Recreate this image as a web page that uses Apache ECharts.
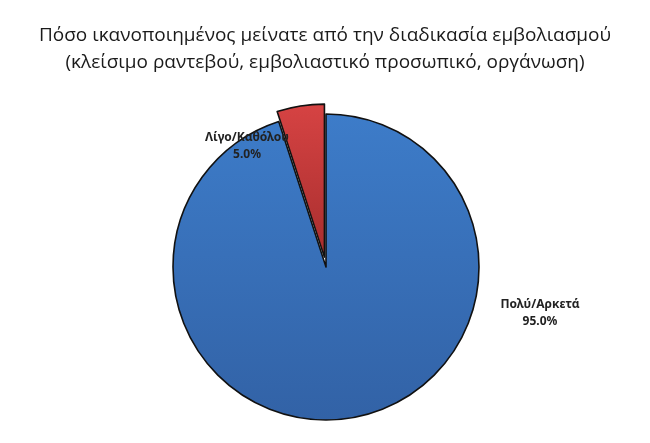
<!DOCTYPE html>
<html>
<head>
<meta charset="utf-8">
<script src="https://cdn.jsdelivr.net/npm/echarts@6/dist/echarts.min.js"></script>
<style>
  html, body { margin: 0; padding: 0; background: #fff; }
  #chart { width: 650px; height: 443px; }
</style>
</head>
<body>
<div id="chart"></div>
<script>
var titleText = 'Πόσο ικανοποιημένος μείνατε από την διαδικασία εμβολιασμού\n(κλείσιμο ραντεβού, εμβολιαστικό προσωπικό, οργάνωση)';
var categories = ['Πολύ/Αρκετά', 'Λίγο/Καθόλου'];
var shares = [95.0, 5.0];
var exploded = [false, true];

// χρώματα φέτας (πάνω -> κάτω)
var sliceColors = [
    ['#3d7cc9', '#3262a6'],
    ['#d64343', '#a82e2e']
];
// θέση ετικετών (best fit όπως στο excel)
var labelSpots = [
    { x: 540, y: 313 },
    { x: 247, y: 146 }
];

var cx = 326, cy = 267, R = 153, explodeDist = 10;
var total = shares.reduce(function (a, b) { return a + b; }, 0);

// μία σειρά ανά φέτα, η "εκρηγμένη" μετατοπίζεται κατά τη διχοτόμο της
function sliceSeries(k) {
    var before = 0;
    for (var j = 0; j < k; j++) before += shares[j];
    var mid = (before + shares[k] / 2) / total * 2 * Math.PI; // από πάνω, δεξιόστροφα
    var d = exploded[k] ? explodeDist : 0;
    return {
        type: 'pie',
        center: [cx + d * Math.sin(mid), cy - d * Math.cos(mid)],
        radius: [0, R],
        startAngle: 90,
        clockwise: true,
        silent: true,
        label: {
            show: true,
            position: 'inside',
            fontFamily: 'Noto Sans',
            fontWeight: 'bold',
            fontSize: 12,
            lineHeight: 17,
            color: '#222',
            align: 'center',
            formatter: function (p) {
                return p.name + '\n' + p.value.toFixed(1) + '%';
            }
        },
        labelLine: { show: false },
        labelLayout: function (params) {
            var s = labelSpots[params.dataIndex];
            return { x: s.x, y: s.y, align: 'center', verticalAlign: 'middle' };
        },
        data: categories.map(function (name, i) {
            var mine = i === k;
            return {
                name: name,
                value: shares[i],
                label: { show: mine },
                itemStyle: mine ? {
                    borderColor: '#111',
                    borderWidth: 1.6,
                    color: new echarts.graphic.LinearGradient(0, 0, 0, 1, [
                        { offset: 0, color: sliceColors[i][0] },
                        { offset: 1, color: sliceColors[i][1] }
                    ])
                } : { color: 'rgba(0,0,0,0)', borderWidth: 0 }
            };
        })
    };
}

var chart = echarts.init(document.getElementById('chart'));
chart.setOption({
    animation: false,
    title: {
        text: titleText,
        left: 320,
        top: 17,
        textAlign: 'center',
        textStyle: {
            fontFamily: 'Open Sans',
            fontSize: 19,
            fontWeight: 'normal',
            color: '#1a1a1a',
            lineHeight: 27
        }
    },
    series: categories.map(function (c, k) { return sliceSeries(k); })
});
</script>
</body>
</html>
